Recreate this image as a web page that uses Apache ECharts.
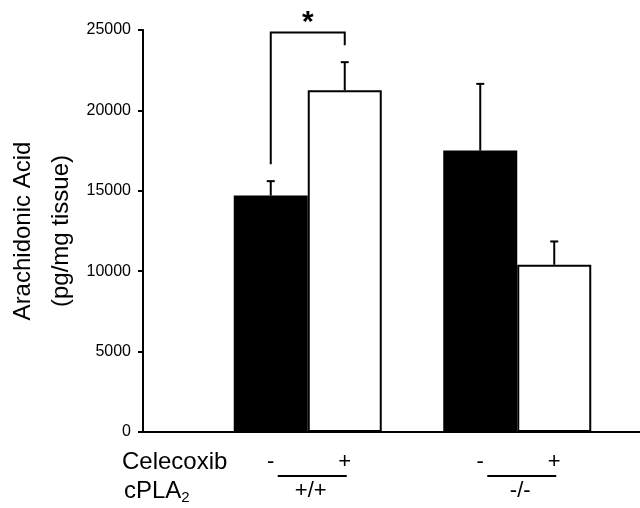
<!DOCTYPE html>
<html>
<head>
<meta charset="utf-8">
<script src="https://cdn.jsdelivr.net/npm/echarts@6/dist/echarts.min.js"></script>
<style>html,body{margin:0;padding:0;background:#fff;}#c{width:640px;height:508px;}</style>
</head>
<body>
<div id="c"></div>
<script>
// ---- data ----
const categories = ['+/+', '-/-'];          // cPLA2 genotype
const celecoxibNeg = [14700, 17500];         // black bars (Celecoxib -)
const celecoxibPos = [21250, 10400];         // white bars (Celecoxib +)
const errTopNeg = [15600, 21650];            // upper error bar ends (black)
const errTopPos = [23000, 11850];            // upper error bar ends (white)
const yMax = 25000;
const yInterval = 5000;
const treatmentLabels = ['-', '+'];
const bracket = { top: 24850, leftBottom: 16650, rightBottom: 24050, label: '*' };

const FONT = '"Liberation Sans", Arial, sans-serif';
const BW = 74;
const chart = echarts.init(document.getElementById('c'), null, { renderer: 'canvas' });

function errSeries(vals, tops, sign) {
  return {
    type: 'custom', xAxisIndex: 1, yAxisIndex: 1, z: 5,
    data: vals.map((v, i) => [i, v, tops[i]]),
    renderItem: function (params, api) {
      const i = api.value(0);
      const p0 = api.coord([i, api.value(1)]);
      const p1 = api.coord([i, api.value(2)]);
      const x = p0[0] + sign * BW / 2;
      const st = { stroke: '#000', lineWidth: 2 };
      return { type: 'group', children: [
        { type: 'line', shape: { x1: x, y1: p0[1], x2: x, y2: p1[1] }, style: st },
        { type: 'line', shape: { x1: x - 4, y1: p1[1], x2: x + 4, y2: p1[1] }, style: st }
      ]};
    }
  };
}

chart.setOption({
  animation: false,
  backgroundColor: '#fff',
  grid: [
    { left: 143, right: 0, top: 30, bottom: 76, containLabel: false, outerBoundsMode: 'none' },
    { left: 203, right: 18, top: 30, bottom: 76, containLabel: false, outerBoundsMode: 'none' }
  ],
  xAxis: [
    { gridIndex: 0, type: 'value', min: 0, max: 1,
      axisLine: { show: true, onZero: false, lineStyle: { color: '#000', width: 2 } },
      axisTick: { show: false }, axisLabel: { show: false }, splitLine: { show: false } },
    { gridIndex: 1, type: 'category', data: categories, show: false }
  ],
  yAxis: [
    { gridIndex: 0, type: 'value', min: 0, max: yMax, interval: yInterval,
      name: 'Arachidonic Acid\n(pg/mg tissue)', nameLocation: 'middle', nameRotate: 90, nameGap: 63,
      nameMoveOverlap: false,
      nameTextStyle: { fontFamily: FONT, fontSize: 24, color: '#000', lineHeight: 38 },
      axisLine: { show: true, lineStyle: { color: '#000', width: 2 } },
      axisTick: { show: true, inside: false, length: 5, lineStyle: { color: '#000', width: 2 } },
      axisLabel: { fontFamily: FONT, fontSize: 16, color: '#000', margin: 12,
                   formatter: v => String(v) },
      splitLine: { show: false } },
    { gridIndex: 1, type: 'value', min: 0, max: yMax, show: false, splitLine: { show: false } }
  ],
  series: [
    { type: 'bar', xAxisIndex: 1, yAxisIndex: 1, data: celecoxibNeg, barWidth: BW, barGap: '0%',
      itemStyle: { color: '#000', borderColor: '#000', borderWidth: 0 } },
    { type: 'bar', xAxisIndex: 1, yAxisIndex: 1, data: celecoxibPos, barWidth: BW, barGap: '0%',
      itemStyle: { color: '#fff', borderColor: '#000', borderWidth: 2 } },
    errSeries(celecoxibNeg, errTopNeg, -1),
    errSeries(celecoxibPos, errTopPos, 1)
  ]
});

// ---- annotations positioned via the axes ----
const px = (c, v) => chart.convertToPixel({ xAxisIndex: 1, yAxisIndex: 1 }, [c, v]);
const g = [];
const txt = (x, y, text, size, align, extra) => g.push({ type: 'text', x: x, y: y, z: 10,
  style: Object.assign({ text: text, fontFamily: FONT, fontSize: size, fill: '#000', align: align || 'center', verticalAlign: 'middle' }, extra || {}) });

const base = px(0, 0)[1];
const rowY1 = base + 30, rowY2 = base + 59;
txt(122, rowY1, 'Celecoxib', 24, 'left');
g.push({ type: 'text', x: 124, y: rowY2, z: 10, style: {
  text: '{a|cPLA}{s|2}', align: 'left', verticalAlign: 'middle',
  rich: { a: { fontFamily: FONT, fontSize: 24, fill: '#000' },
          s: { fontFamily: FONT, fontSize: 15, fill: '#000', verticalAlign: 'bottom', padding: [14, 0, 0, 0] } } } });

categories.forEach((cat, i) => {
  const cx = px(i, 0)[0];
  txt(cx - BW / 2, rowY1, treatmentLabels[0], 22);
  txt(cx + BW / 2, rowY1, treatmentLabels[1], 22);
  g.push({ type: 'line', z: 10, shape: { x1: cx - 30, y1: rowY1 + 14, x2: cx + 39, y2: rowY1 + 14 },
    style: { stroke: '#000', lineWidth: 2 } });
  txt(cx + 3, rowY2, cat, 22);
});

// significance bracket between the two +/+ bars
const c0 = px(0, 0)[0];
const lx = c0 - BW / 2, rx = c0 + BW / 2;
const yTop = px(0, bracket.top)[1], yL = px(0, bracket.leftBottom)[1], yR = px(0, bracket.rightBottom)[1];
g.push({ type: 'polyline', z: 10, shape: { points: [[lx, yL], [lx, yTop], [rx, yTop], [rx, yR]] },
  style: { stroke: '#000', lineWidth: 2, fill: null } });
txt((lx + rx) / 2, yTop - 10, bracket.label, 30, 'center', { fontWeight: 'bold', verticalAlign: 'middle' });

chart.setOption({ graphic: g });
</script>
</body>
</html>
